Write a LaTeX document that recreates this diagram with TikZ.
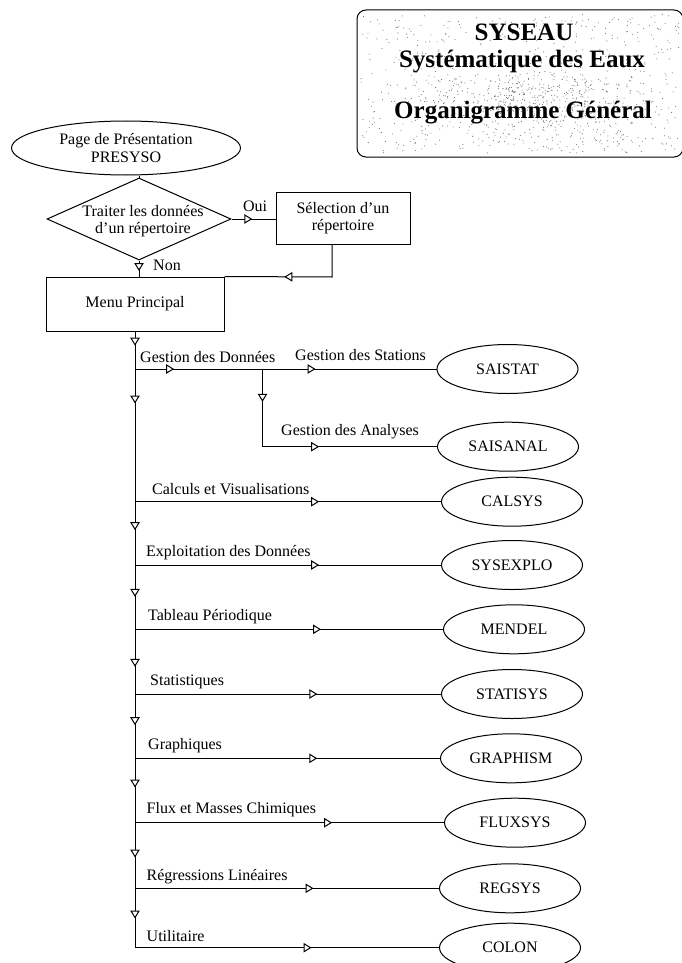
\documentclass[tikz,border=0pt]{standalone}
\usepackage{fontspec}
\setmainfont{Liberation Serif}
\usetikzlibrary{shapes.geometric,arrows.meta,decorations.markings}
\tikzset{
  base/.style={line width=1pt},
  txt/.style={font=\fontsize{16}{17.6}\selectfont, inner sep=0pt},
  lab/.style={txt, anchor=west},
  prog/.style={base, draw, ellipse, minimum width=141pt, minimum height=49pt, inner sep=0pt, font=\fontsize{16}{18}\selectfont},
  boxnode/.style={base, draw, rectangle, inner sep=0pt, align=center, font=\fontsize{16}{17.6}\selectfont},
  ttl/.style={font=\bfseries\fontsize{25}{28}\selectfont, inner sep=0pt},
  arrat/.style={base, postaction={decorate, decoration={markings,
      mark=at position #1 with {\arrow{Triangle[open,fill=white,length=8pt,width=9.5pt,line width=1pt]}}}}}
}
\begin{document}
\begin{tikzpicture}[x=1pt,y=-1pt]
\useasboundingbox (0,0) rectangle (682,963);

% ---------- title box ----------
\node[base, draw, rounded corners=9pt, minimum width=326pt, minimum height=147pt, inner sep=0pt] (title) at (520,83.5) {};
\pgfmathsetseed{17}
\foreach \i in {1,...,650} {
  \pgfmathsetmacro\rx{361+318*rnd}
  \pgfmathsetmacro\ry{14+139*rnd}
  \fill[black!55] (\rx,\ry) circle (0.55pt);
}
\foreach \i in {1,...,450} {
  \pgfmathsetmacro\rx{380+100*(rnd+rnd+rnd)}
  \pgfmathsetmacro\ry{50+35*(rnd+rnd+rnd)}
  \fill[black!55] (\rx,\ry) circle (0.55pt);
}
\node[ttl] (t1) at (524,32) {SYSEAU};
\node[ttl] (t2) at (522,62) {Systématique des Eaux};
\node[ttl] (t3) at (523,113) {Organigramme Général};

% ---------- top flow ----------
\node[prog, minimum width=229pt, minimum height=54pt, align=center, font=\fontsize{16}{17.6}\selectfont] (presyso) at (126,148) {Page de Présentation\\PRESYSO};
\node[base, draw, diamond, minimum width=184pt, minimum height=82pt, inner sep=0pt, aspect=2.24] (traiter) at (139,219) {};
\node[txt, align=center] (traitertxt) at (143,221) {Traiter les données\\d'un répertoire};
\node[boxnode, minimum width=134pt, minimum height=52pt] (selection) at (343,218) {Sélection d'un\\répertoire};
\node[boxnode, minimum width=178pt, minimum height=54pt] (menu) at (135,304) {Menu Principal};

\draw[base] (presyso.south -| traiter.north) -- (traiter.north);
\draw[arrat=20.8pt] (traiter.east) -- (traiter.east -| selection.west);
\node[txt] (oui) at (255,206.5) {Oui};
\draw[arrat=10.5pt] (traiter.south) -- (traiter.south |- menu.north);
\node[txt] (non) at (167,265.5) {Non};
\coordinate (fb) at (332,277);
\draw[arrat=80.2pt] (selection.south -| fb) -- (fb) -- (menu.north east);

% ---------- program ellipses ----------
\node[prog] (saistat)  at (507.5,369)   {SAISTAT};
\node[prog] (saisanal) at (508,446.7)   {SAISANAL};
\node[prog] (calsys)   at (512,501.7)   {CALSYS};
\node[prog] (sysexplo) at (512,565)     {SYSEXPLO};
\node[prog] (mendel)   at (514,629.3)   {MENDEL};
\node[prog] (statisys) at (512,694)     {STATISYS};
\node[prog] (graphism) at (511,758.3)   {GRAPHISM};
\node[prog] (fluxsys)  at (515,822.7)   {FLUXSYS};
\node[prog] (regsys)   at (510,888.3)   {REGSYS};
\node[prog] (colon)    at (510,947.7)   {COLON};

% ---------- junctions ----------
\coordinate (j1) at (135,369);
\coordinate (j2) at (135,501.7);
\coordinate (j3) at (135,565);
\coordinate (j4) at (135,629.3);
\coordinate (j5) at (135,694);
\coordinate (j6) at (135,758.3);
\coordinate (j7) at (135,822.7);
\coordinate (j8) at (135,888.3);
\coordinate (j9) at (135,947.7);
\coordinate (g)  at (262.5,369);
\coordinate (g2) at (262.5,446.7);

% main vertical line
\draw[arrat=14.2pt] (menu.south) -- (j1);
\draw[arrat=34.5pt] (j1) -- (j2);
\draw[arrat=28.5pt] (j2) -- (j3);
\draw[arrat=31.8pt] (j3) -- (j4);
\draw[arrat=37.5pt] (j4) -- (j5);
\draw[arrat=31.2pt] (j5) -- (j6);
\draw[arrat=29.2pt] (j6) -- (j7);
\draw[arrat=34.8pt] (j7) -- (j8);
\draw[arrat=30.2pt] (j8) -- (j9);

% branches
\draw[arrat=39.1pt]  (j1) -- (g);
\draw[arrat=53pt]    (g) -- (saistat.west);
\draw[arrat=32.8pt]  (g) -- (g2);
\draw[arrat=56.6pt]  (g2) -- (saisanal.west);
\draw[arrat=184.1pt] (j2) -- (calsys.west);
\draw[arrat=184.1pt] (j3) -- (sysexplo.west);
\draw[arrat=186pt]   (j4) -- (mendel.west);
\draw[arrat=182.3pt] (j5) -- (statisys.west);
\draw[arrat=182.3pt] (j6) -- (graphism.west);
\draw[arrat=197.1pt] (j7) -- (fluxsys.west);
\draw[arrat=178.5pt] (j8) -- (regsys.west);
\draw[arrat=176.5pt] (j9) -- (colon.west);

% labels
\node[lab] (l1)  at (140,357)   {Gestion des Données};
\node[lab] (l2)  at (295,355)   {Gestion des Stations};
\node[lab] (l3)  at (281,432)   {Gestion des Analyses};
\node[lab] (l4)  at (152,489)   {Calculs et Visualisations};
\node[lab] (l5)  at (146,553)   {Exploitation des Données};
\node[lab] (l6)  at (148,617)   {Tableau Périodique};
\node[lab] (l7)  at (150,682)   {Statistiques};
\node[lab] (l8)  at (148,746)   {Graphiques};
\node[lab] (l9)  at (146.5,810) {Flux et Masses Chimiques};
\node[lab] (l10) at (146.5,877) {Régressions Linéaires};
\node[lab] (l11) at (146.5,936) {Utilitaire};
\end{tikzpicture}
\end{document}
